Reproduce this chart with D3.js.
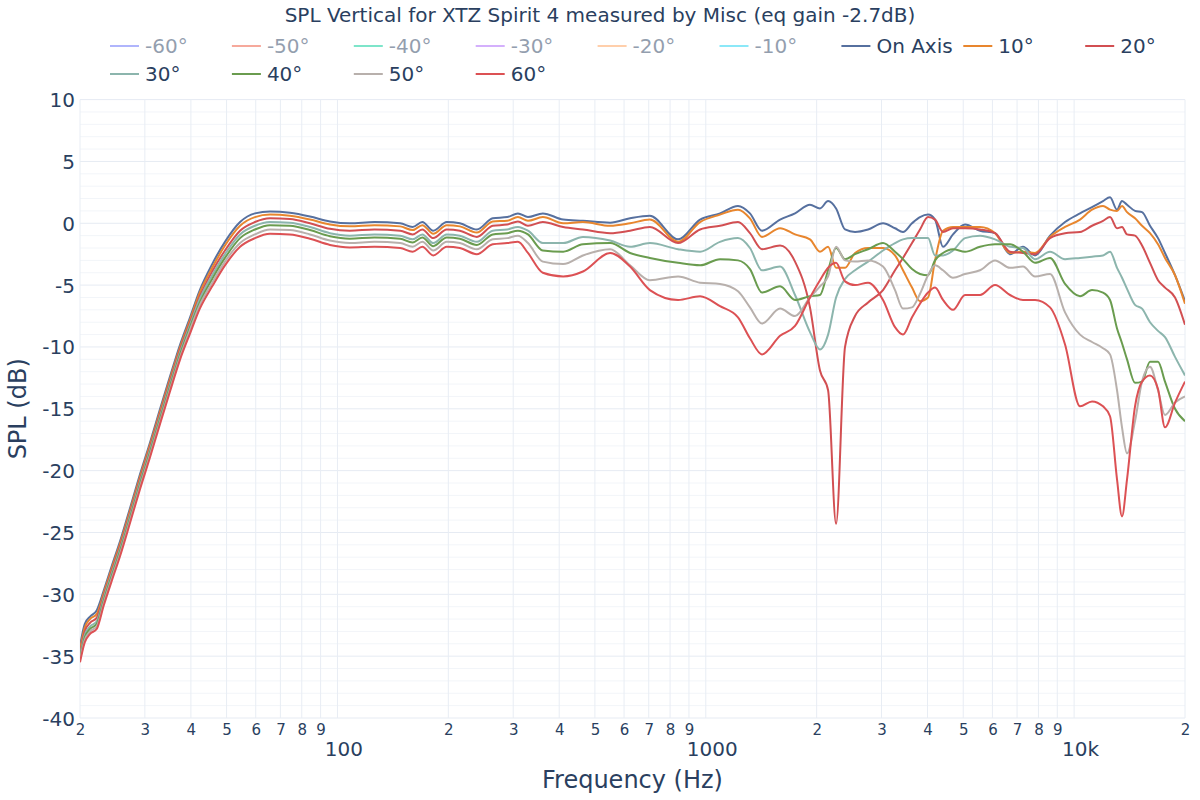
<!DOCTYPE html>
<html><head><meta charset="utf-8">
<script src="https://cdn.jsdelivr.net/npm/d3@7"></script>
<style>
body{margin:0;background:#fff}
svg{display:block}
text{font-family:"DejaVu Sans", Verdana, sans-serif;}
</style>
</head><body>
<svg id="chart" width="1200" height="800"></svg>
<script>
const chartTitle = "SPL Vertical for XTZ Spirit 4 measured by Misc (eq gain -2.7dB)";
const xTitle = "Frequency (Hz)";
const yTitle = "SPL (dB)";

const freqs = [20, 20.6, 21.3, 22.2, 23.2, 24.4, 25.7, 27.3, 29.1, 31.0, 33.0, 35.1, 37.4, 39.8, 42.3, 45.7, 49.5, 54.4, 59.7, 65.6, 74.3, 84.2, 95.4,
  108, 126, 148, 160, 170, 182, 198, 215, 239, 264, 289, 309, 329, 361, 410, 464, 550, 623, 705,
  841, 965, 1093, 1223, 1318, 1421, 1591, 1747, 1918, 2042, 2148, 2258, 2388, 2542, 2758, 3028, 3264, 3431, 3630, 3816, 4012, 4192, 4406, 4690, 5056, 5553, 6100, 6698, 7264, 7832, 8602, 9448, 10376, 11184, 11980, 12516, 13076, 13490, 13920, 14634, 15288, 16070, 16894, 17650, 18790, 20000];

const splOnAxis = [-34.2, -32.4, -31.8, -31.3, -29.7, -27.7, -25.7, -23.1, -20.3, -17.7, -15.0, -12.4, -9.8, -7.6, -5.4, -3.3, -1.5, 0.1, 0.8, 0.95, 0.85, 0.55, 0.15,
  0.0, 0.1, 0.0, -0.3, 0.1, -0.6, 0.1, 0.0, -0.5, 0.4, 0.5, 0.8, 0.5, 0.8, 0.3, 0.2, 0.05, 0.4, 0.6,
  -1.3, 0.3, 0.8, 1.4, 0.8, -0.6, 0.3, 0.8, 1.5, 1.2, 1.8, 1.2, -0.5, -0.7, -0.5, 0.0, -0.4, -0.7, 0.0, 0.5, 0.7, 0.3, -1.9, -0.9, -0.1, -0.6, -0.8, -2.5, -1.9, -2.6, -1.0, 0.1, 0.8, 1.3, 1.8, 2.1, 1.1, 1.8, 1.5, 1.0, 0.9, -0.2, -1.2, -2.4, -4.2, -6.3];

const spl10 = [-34.5, -32.7, -32.0, -31.6, -29.9, -27.9, -25.9, -23.3, -20.5, -17.9, -15.2, -12.6, -10.0, -7.8, -5.6, -3.6, -1.8, -0.2, 0.5, 0.7, 0.6, 0.3, -0.1,
  -0.25, -0.15, -0.25, -0.55, -0.15, -0.85, -0.15, -0.25, -0.75, 0.15, 0.2, 0.5, 0.2, 0.5, 0.0, 0.1, -0.2, 0.0, 0.3,
  -1.5, 0.1, 0.7, 1.1, 0.4, -1.1, -0.4, -0.9, -1.3, -2.3, -1.9, -3.6, -3.6, -2.4, -2.0, -2.0, -2.6, -3.8, -5.2, -6.3, -6.0, -3.0, -0.6, -0.3, -0.3, -0.3, -0.8, -2.4, -2.3, -2.4, -1.1, -0.3, 0.3, 1.1, 1.4, 1.1, 1.0, 1.4, 0.9, 0.4, -0.2, -0.8, -1.7, -2.8, -4.2, -6.5];

const spl20 = [-34.8, -33.0, -32.3, -31.9, -30.1, -28.1, -26.1, -23.5, -20.7, -18.1, -15.4, -12.8, -10.2, -8.0, -5.9, -3.9, -2.2, -0.6, 0.1, 0.4, 0.35, 0.0, -0.45,
  -0.6, -0.5, -0.6, -0.9, -0.5, -1.2, -0.5, -0.6, -1.1, -0.2, -0.1, 0.15, -0.2, 0.1, -0.3, -0.5, -0.8, -0.6, -0.3,
  -1.6, -0.5, -0.2, 0.1, -0.8, -2.1, -1.8, -3.1, -6.8, -11.9, -13.5, -24.3, -10.0, -7.5, -6.4, -5.4, -3.8, -2.8, -1.6, -0.5, 0.5, 0.3, -0.7, -0.4, -0.4, -0.5, -0.8, -2.3, -2.4, -2.5, -1.2, -0.8, -0.7, -0.2, 0.2, 0.5, -0.4, -0.3, -0.9, -1.0, -1.8, -3.2, -4.6, -5.2, -6.0, -8.2];

const spl30 = [-35.0, -33.3, -32.6, -32.2, -30.3, -28.3, -26.3, -23.7, -20.9, -18.3, -15.6, -13.0, -10.4, -8.2, -6.1, -4.2, -2.5, -0.9, -0.2, 0.1, 0.05, -0.3, -0.8,
  -1.0, -0.9, -1.0, -1.3, -0.9, -1.6, -0.9, -1.0, -1.5, -0.6, -0.5, -0.3, -0.6, -1.6, -1.6, -1.1, -1.4, -1.9, -1.6,
  -2.1, -2.3, -1.5, -1.2, -2.0, -3.8, -3.5, -5.8, -8.8, -10.2, -9.0, -6.0, -4.5, -3.8, -3.1, -2.2, -1.6, -1.3, -1.2, -1.2, -1.2, -2.6, -2.6, -2.2, -1.2, -1.0, -1.3, -1.9, -2.0, -2.9, -2.3, -2.9, -2.8, -2.7, -2.6, -2.3, -3.6, -4.4, -5.3, -6.6, -6.9, -8.0, -8.7, -9.2, -10.8, -12.3];

const spl40 = [-35.2, -33.5, -32.8, -32.4, -30.5, -28.5, -26.5, -23.9, -21.1, -18.5, -15.8, -13.2, -10.6, -8.4, -6.4, -4.5, -2.8, -1.2, -0.5, -0.15, -0.2, -0.55, -1.05,
  -1.25, -1.15, -1.25, -1.55, -1.15, -1.85, -1.15, -1.25, -1.75, -0.9, -0.8, -0.6, -0.9, -2.2, -2.3, -1.7, -1.6, -2.4, -2.8,
  -3.2, -3.4, -2.9, -3.0, -3.7, -5.6, -5.1, -6.2, -5.9, -5.8, -3.8, -2.0, -2.9, -2.5, -2.1, -1.6, -2.3, -2.9, -3.7, -4.1, -4.2, -3.0, -2.4, -2.1, -2.3, -1.9, -1.7, -1.7, -2.3, -3.2, -2.8, -4.9, -5.9, -5.4, -5.6, -6.2, -8.5, -9.7, -11.0, -12.9, -12.8, -11.2, -11.2, -12.8, -15.0, -16.0];

const spl50 = [-35.3, -33.7, -33.0, -32.6, -30.7, -28.7, -26.7, -24.1, -21.3, -18.7, -16.0, -13.4, -10.8, -8.6, -6.6, -4.8, -3.1, -1.6, -0.9, -0.5, -0.55, -0.9, -1.4,
  -1.6, -1.5, -1.6, -1.9, -1.5, -2.2, -1.5, -1.6, -2.1, -1.3, -1.2, -1.0, -1.6, -3.1, -3.3, -2.6, -2.1, -3.4, -4.6,
  -4.3, -4.8, -4.9, -5.5, -6.8, -8.1, -6.9, -7.5, -6.0, -5.1, -4.3, -1.9, -3.0, -3.1, -3.0, -3.5, -5.4, -6.9, -6.8, -5.7, -4.2, -3.4, -3.8, -4.4, -4.1, -3.8, -3.0, -3.6, -3.5, -4.3, -4.1, -7.2, -9.0, -9.6, -10.1, -10.6, -13.5, -16.5, -18.6, -16.0, -12.8, -11.6, -13.5, -15.5, -14.5, -14.0];

const spl60 = [-35.5, -33.9, -33.2, -32.8, -30.9, -28.9, -26.9, -24.3, -21.5, -18.9, -16.2, -13.6, -11.0, -8.9, -6.9, -5.1, -3.4, -1.9, -1.2, -0.85, -0.9, -1.25, -1.75,
  -1.95, -1.9, -2.0, -2.3, -1.9, -2.6, -1.9, -2.0, -2.5, -1.7, -1.6, -1.5, -2.4, -4.0, -4.3, -3.9, -2.4, -3.5, -5.4,
  -6.2, -5.9, -6.7, -7.6, -9.3, -10.6, -9.1, -8.3, -6.0, -4.6, -3.6, -3.2, -4.7, -5.0, -4.8, -6.2, -8.4, -9.0, -7.6, -6.5, -5.6, -5.2, -6.2, -7.0, -5.8, -5.8, -5.0, -5.8, -6.2, -6.2, -6.8, -9.8, -14.8, -14.4, -14.8, -15.6, -20.7, -23.7, -20.7, -14.8, -12.8, -12.3, -13.4, -16.5, -14.5, -12.8];

const visibleNames = ["On Axis", "10°", "20°", "30°", "40°", "50°", "60°"];
const visibleColors = ["#56709f", "#e8862e", "#d24f52", "#8cb5ad", "#6a9c4f", "#b8b0ac", "#dc5154"];
const visibleValues = [splOnAxis, spl10, spl20, spl30, spl40, spl50, spl60];

const hiddenNames = ["-60°", "-50°", "-40°", "-30°", "-20°", "-10°"];
const hiddenColors = ["#636efa", "#EF553B", "#00cc96", "#ab63fa", "#FFA15A", "#19d3f3"];

const yTicks = [10, 5, 0, -5, -10, -15, -20, -25, -30, -35, -40];
const xDecadeTicks = [100, 1000, 10000];
const xDecadeLabels = ["100", "1000", "10k"];

const textColor = "#2a3f5f";
const svg = d3.select("#chart");
const M = {left: 80, right: 1185, top: 99.6, bottom: 718};

const x = d3.scaleLog().domain([20, 20000]).range([M.left, M.right]);
const y = d3.scaleLinear().domain([-40, 10]).range([M.bottom, M.top]);

const xMinor = [];
[10, 100, 1000, 10000].forEach(d => { for (let m = 2; m <= 9; m++) { const v = m * d; if (v >= 20 && v <= 20000) xMinor.push(v); } });

const grid = svg.append("g");
d3.range(-40, 11, 1).forEach(v => {
  grid.append("line").attr("x1", M.left).attr("x2", M.right).attr("y1", y(v)).attr("y2", y(v))
    .attr("stroke", v % 5 === 0 ? "#e6ebf3" : "#f2f5f9").attr("stroke-width", 1);
});
xMinor.concat(xDecadeTicks).forEach(v => {
  grid.append("line").attr("x1", x(v)).attr("x2", x(v)).attr("y1", M.top).attr("y2", M.bottom)
    .attr("stroke", "#e8edf4").attr("stroke-width", 1);
});

svg.append("clipPath").attr("id", "clip").append("rect")
  .attr("x", M.left).attr("y", M.top).attr("width", M.right - M.left).attr("height", M.bottom - M.top);

const line = d3.line().x((d, i) => x(freqs[i])).y(d => y(d)).curve(d3.curveMonotoneX);
const lines = svg.append("g").attr("clip-path", "url(#clip)");
visibleValues.forEach((vals, k) => {
  lines.append("path").datum(vals).attr("d", line).attr("fill", "none")
    .attr("stroke", visibleColors[k]).attr("stroke-width", 2).attr("stroke-linejoin", "round");
});

const yAxis = d3.axisLeft(y).tickValues(yTicks).tickSize(0).tickPadding(5).tickFormat(d => String(d));
const gy = svg.append("g").attr("transform", `translate(${M.left},0)`).call(yAxis);
gy.select(".domain").remove();
gy.selectAll("text").attr("fill", textColor).style("font-size", "20px").attr("dy", "0.35em");

const xAxisMinor = d3.axisBottom(x).tickValues(xMinor).tickSize(0).tickPadding(6)
  .tickFormat(v => String(Math.round(v / Math.pow(10, Math.floor(Math.log10(v) + 1e-9)))));
const gx = svg.append("g").attr("transform", `translate(0,${M.bottom})`).call(xAxisMinor);
gx.select(".domain").remove();
gx.selectAll("text").attr("fill", textColor).style("font-size", "15px");

const xAxisMajor = d3.axisBottom(x).tickValues(xDecadeTicks).tickSize(0).tickPadding(24)
  .tickFormat((v, i) => xDecadeLabels[i]);
const gx2 = svg.append("g").attr("transform", `translate(6,${M.bottom})`).call(xAxisMajor);
gx2.select(".domain").remove();
gx2.selectAll("text").attr("fill", textColor).style("font-size", "20px");

svg.append("text").attr("x", 600).attr("y", 22).attr("text-anchor", "middle")
  .attr("fill", textColor).style("font-size", "20px").text(chartTitle);
svg.append("text").attr("x", (M.left + M.right) / 2).attr("y", 788).attr("text-anchor", "middle")
  .attr("fill", textColor).style("font-size", "24px").text(xTitle);
svg.append("text").attr("transform", `translate(26,${(M.top + M.bottom) / 2}) rotate(-90)`)
  .attr("text-anchor", "middle").attr("fill", textColor).style("font-size", "24px").text(yTitle);

const legendItems = hiddenNames.map((n, i) => ({name: n, color: hiddenColors[i], hidden: true}))
  .concat(visibleNames.map((n, i) => ({name: n, color: visibleColors[i], hidden: false})));
const leg = svg.append("g");
legendItems.forEach((it, i) => {
  const col = i % 9, row = Math.floor(i / 9);
  const lx = 110 + col * 121.9, ly = 46 + row * 28;
  const g = leg.append("g").attr("transform", `translate(${lx},${ly})`).attr("opacity", it.hidden ? 0.5 : 1);
  g.append("line").attr("x1", 0).attr("x2", 29).attr("y1", 0).attr("y2", 0)
    .attr("stroke", it.color).attr("stroke-width", 2);
  g.append("text").attr("x", 35).attr("y", 0).attr("dy", "0.35em").attr("fill", textColor)
    .style("font-size", "20px").text(it.name);
});
</script>
</body></html>
